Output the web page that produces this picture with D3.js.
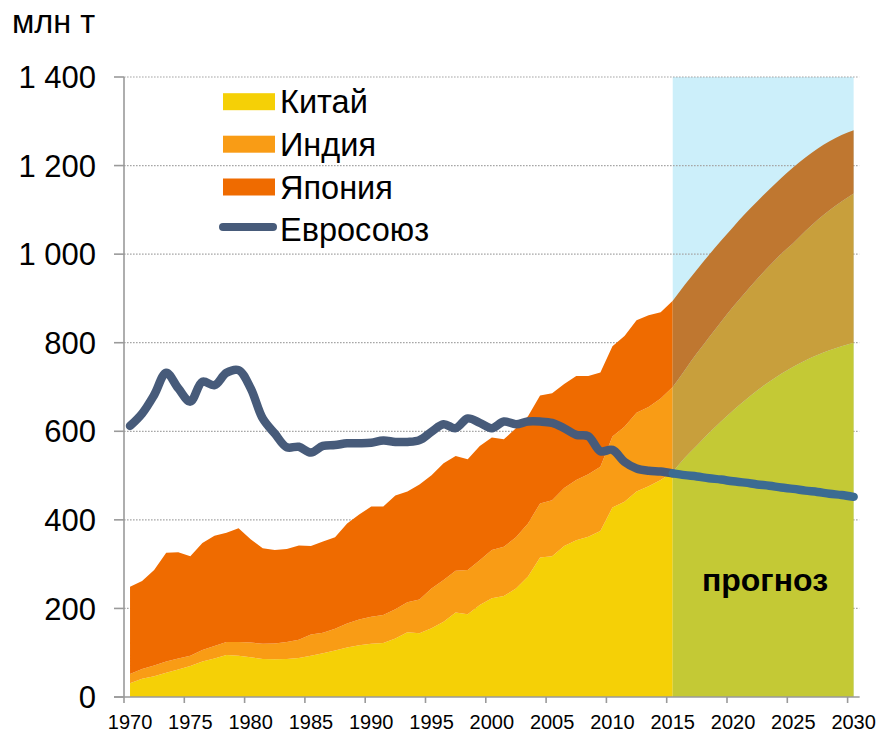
<!DOCTYPE html>
<html><head><meta charset="utf-8">
<script src="https://cdn.jsdelivr.net/npm/d3@7"></script>
<style>
html,body{margin:0;padding:0;background:#fff;}
svg{display:block;font-family:"Liberation Sans",Arial,sans-serif;}
</style></head>
<body><svg id="chart" width="879" height="732"></svg>
<script>
// ---------- data ----------
const years = d3.range(1970, 2031);
const lastHistYear = 2015;
const china = [31,41,47,55,62,70,80,87,95,93,90,86,85,86,88,93,99,105,112,117,120,122,132,146,144,155,170,191,187,208,223,228,245,272,315,318,341,354,362,375,428,441,464,476,490,508,
  540,568,596,622,647,670,692,712,730,746,760,772,783,792,800];
const india = [21,22,24,25,25,23,26,28,29,31,33,34,36,38,41,48,46,49,54,58,61,63,66,68,76,90,94,94,100,101,109,111,116,120,122,126,131,136,141,145,160,169,178,179,184,192,
  198,208,216,225,234,243,252,261,271,279,292,305,316,327,337];
const japan = [197,199,216,246,240,225,242,249,247,257,233,216,211,210,213,200,206,207,226,237,249,245,257,250,260,256,264,259,250,258,254,243,246,242,244,242,235,235,222,213,204,205,209,207,195,195,
  193,189,186,183,180,178,175,173,171,171,166,161,156,150,143];
const eu = [612,640,682,732,697,667,712,704,732,738,697,629,595,564,565,552,567,569,573,573,574,579,576,576,580,599,616,607,629,619,607,622,616,622,622,619,607,592,589,555,558,531,516,511,509,505,
  501,498,494,491,487,484,480,477,473,470,466,463,459,456,452];
const seriesNames = ["Китай","Индия","Япония"];
const lineName = "Евросоюз";
const yTicks = [0,200,400,600,800,1000,1200,1400];
const xTicks = [1970,1975,1980,1985,1990,1995,2000,2005,2010,2015,2020,2025,2030];
const unitLabel = "млн т";
const forecastLabel = "прогноз";

// ---------- styles ----------
const colHist = ["#F5D006","#F99C15","#EF6B00"];
const colFc   = ["#C4C935","#C89F3C","#BF7730"];
const euHist = "#475B7A", euFc = "#3B6B92";
const bandCol = "#CCEFFA";
const axisCol = "#9a9a9a";

const svg = d3.select("#chart");
const x = d3.scaleLinear().domain([1970, 2031]).range([124, 124 + 61*12.06]);
const y = d3.scaleLinear().domain([0, 1400]).range([697, 77]);
const px = yr => x(yr + 0.5);

const rows = years.map((yr,i)=>({year:yr, "Китай":china[i], "Индия":india[i], "Япония":japan[i], eu:eu[i]}));
const hist = rows.filter(r=>r.year<=lastHistYear);
const fc = rows.filter(r=>r.year>=lastHistYear);

// forecast band
svg.append("rect")
  .attr("x", px(lastHistYear)).attr("y", y(1400))
  .attr("width", px(2030)-px(lastHistYear)).attr("height", y(0)-y(1400))
  .attr("fill", bandCol);

// gridlines
svg.append("g").selectAll("line").data(yTicks.filter(d=>d>0)).join("line")
  .attr("x1", 124).attr("x2", x(2031)-0.5)
  .attr("y1", d=>y(d)).attr("y2", d=>y(d))
  .attr("stroke", "#a6a6a6").attr("stroke-width", 1.2).attr("stroke-dasharray","1.6,1.4");

const stack = d3.stack().keys(seriesNames);
const area = curve => d3.area().x(d=>px(d.data.year)).y0(d=>y(d[0])).y1(d=>y(d[1])).curve(curve);

svg.append("g").selectAll("path").data(stack(hist)).join("path")
  .attr("d", area(d3.curveLinear)).attr("fill", (d,i)=>colHist[i]);
svg.append("g").selectAll("path").data(stack(fc)).join("path")
  .attr("d", area(d3.curveMonotoneX)).attr("fill", (d,i)=>colFc[i]);

// EU line
const line = d3.line().x(d=>px(d.year)).y(d=>y(d.eu)).curve(d3.curveCatmullRom.alpha(0.5));
svg.append("path").datum(hist).attr("d", line).attr("fill","none")
  .attr("stroke", euHist).attr("stroke-width", 8.5).attr("stroke-linecap","round").attr("stroke-linejoin","round");
svg.append("path").datum(fc).attr("d", line).attr("fill","none")
  .attr("stroke", euFc).attr("stroke-width", 8.5).attr("stroke-linecap","round").attr("stroke-linejoin","round");

// axes
svg.append("line").attr("x1",124).attr("x2",124).attr("y1",y(1400)).attr("y2",y(0))
  .attr("stroke",axisCol).attr("stroke-width",1.6);
svg.append("g").selectAll("line").data(yTicks).join("line")
  .attr("x1",114).attr("x2",124).attr("y1",d=>y(d)).attr("y2",d=>y(d))
  .attr("stroke",axisCol).attr("stroke-width",1.6);
svg.append("line").attr("x1",114).attr("x2",x(2031)).attr("y1",y(0)).attr("y2",y(0))
  .attr("stroke",axisCol).attr("stroke-width",1.6);
svg.append("g").selectAll("line").data(xTicks).join("line")
  .attr("x1",d=>x(d)).attr("x2",d=>x(d)).attr("y1",y(0)).attr("y2",y(0)+6)
  .attr("stroke",axisCol).attr("stroke-width",1.6);

const fmt = d => d>=1000 ? Math.floor(d/1000)+" "+String(d%1000).padStart(3,"0") : String(d);
svg.append("g").selectAll("text").data(yTicks).join("text")
  .attr("x",96).attr("y",d=>y(d)).attr("dy","0.36em").attr("text-anchor","end")
  .attr("font-size",31).attr("fill","#000").text(fmt);
svg.append("g").selectAll("text").data(xTicks).join("text")
  .attr("x",d=>px(d)).attr("y",729).attr("text-anchor","middle")
  .attr("font-size",20).attr("fill","#000").text(d=>d);

svg.append("text").attr("x",12).attr("y",33).attr("font-size",32.5).attr("fill","#000").text(unitLabel);
svg.append("text").attr("x",765).attr("y",591).attr("text-anchor","middle")
  .attr("font-size",32).attr("font-weight","bold").attr("fill","#000").text(forecastLabel);

// legend
const lg = svg.append("g");
const lgY = [101.7, 144.2, 187, 229.5];
seriesNames.forEach((n,i)=>{
  lg.append("rect").attr("x",223).attr("y",lgY[i]-8.5).attr("width",52).attr("height",17).attr("fill",colHist[i]);
  lg.append("text").attr("x",280).attr("y",lgY[i]).attr("dy","0.36em").attr("font-size",32.5).text(n);
});
lg.append("line").attr("x1",223).attr("x2",273).attr("y1",lgY[3]-2.5).attr("y2",lgY[3]-2.5)
  .attr("stroke",euHist).attr("stroke-width",8).attr("stroke-linecap","round");
lg.append("text").attr("x",280).attr("y",lgY[3]).attr("dy","0.36em").attr("font-size",32.5).text(lineName);
</script></body></html>
